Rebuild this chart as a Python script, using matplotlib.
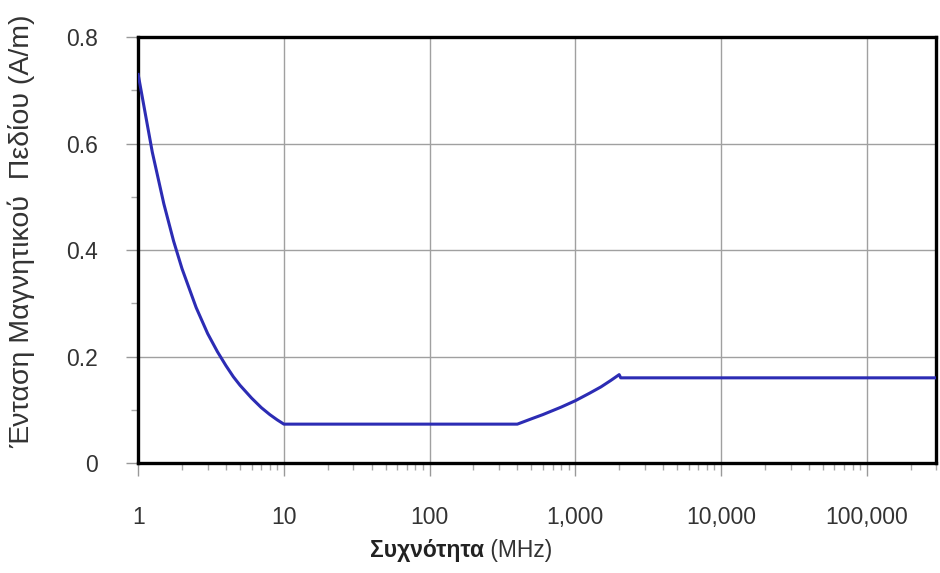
import matplotlib
matplotlib.use("Agg")
import matplotlib.pyplot as plt
from matplotlib.ticker import FixedLocator, FixedFormatter, LogLocator, NullFormatter, MultipleLocator

plt.rcParams.update({"font.family": ["Liberation Sans", "DejaVu Sans"], "font.size": 14})

# values (MHz, A/m)
freq = [1, 1.25, 1.5, 1.75, 2, 2.5, 3, 3.5, 4, 4.5, 5, 6, 7, 8, 9, 10,
        400, 500, 600, 800, 1000, 1250, 1500, 1750, 2000, 2050, 300000]
h_field = [0.73, 0.584, 0.487, 0.417, 0.365, 0.292, 0.243, 0.209, 0.183, 0.162, 0.146,
           0.122, 0.104, 0.091, 0.081, 0.073,
           0.073, 0.083, 0.091, 0.105, 0.117, 0.131, 0.143, 0.155, 0.166, 0.16, 0.16]
x_ticks = [1, 10, 100, 1000, 10000, 100000]
x_labels = ["1", "10", "100", "1,000", "10,000", "100,000"]
y_ticks = [0, 0.2, 0.4, 0.6, 0.8]
y_labels = ["0", "0.2", "0.4", "0.6", "0.8"]
LINE, TXT, GRID = "#2c2cb4", "#333333", "#a0a0a0"

fig = plt.figure(figsize=(9.4, 5.73), dpi=100)
ax = fig.add_axes([0.147, 0.192, 0.849, 0.743])
ax.plot(freq, h_field, color=LINE, lw=2.2, solid_joinstyle="round", zorder=3)

ax.set_xscale("log")
ax.set_xlim(1, 300000); ax.set_ylim(0, 0.8)
ax.xaxis.set_major_locator(FixedLocator(x_ticks))
ax.xaxis.set_major_formatter(FixedFormatter(x_labels))
ax.xaxis.set_minor_locator(LogLocator(base=10, subs=range(2, 10), numticks=20))
ax.xaxis.set_minor_formatter(NullFormatter())
ax.yaxis.set_major_locator(FixedLocator(y_ticks))
ax.yaxis.set_major_formatter(FixedFormatter(y_labels))
ax.yaxis.set_minor_locator(MultipleLocator(0.1))

ax.grid(True, which="major", color=GRID, lw=1.0)
ax.tick_params(which="major", direction="out", length=9, width=1, color="#999999",
               labelcolor=TXT, labelsize=16.5)
ax.tick_params(which="minor", direction="out", length=5, width=1, color="#aaaaaa")
ax.tick_params(axis="x", which="major", pad=22)
ax.tick_params(axis="y", which="major", pad=20)
for s in ax.spines.values():
    s.set_linewidth(2.4); s.set_color("black")
ax.set_axisbelow(True)

t = fig.text(0.394, 0.028, "Συχνότητα", fontsize=16.5, fontweight="bold", color="#222222", va="baseline")
fig.canvas.draw()
ax.annotate(" (MHz)", xy=(1, 0), xycoords=t, va="bottom", ha="left", fontsize=16.5, color=TXT,
            annotation_clip=False)
fig.text(0.023, 0.597, "Ένταση Μαγνητικού  Πεδίου (A/m)", rotation=90, fontsize=20.5, color=TXT,
         ha="center", va="center")

fig.savefig("out.png", dpi=100)
